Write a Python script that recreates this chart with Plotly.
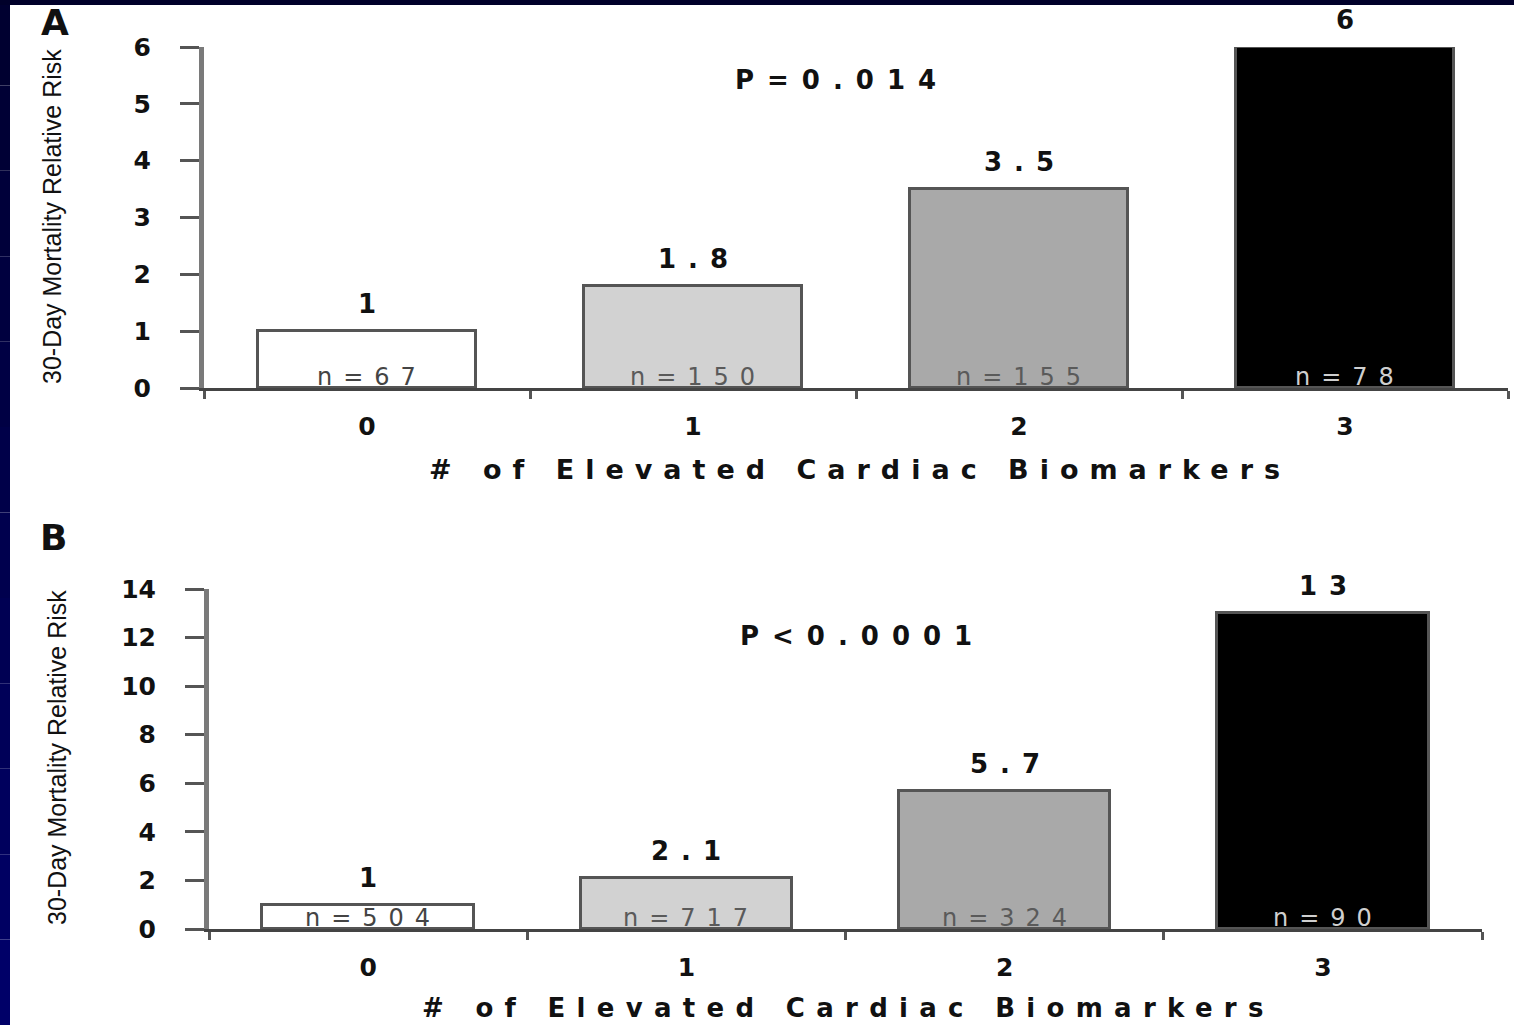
import plotly.graph_objects as go

W, H = 1514, 1025

# ---------------- data ----------------
categories = ["0", "1", "2", "3"]
risk_a = [1, 1.8, 3.5, 6]
n_a = [67, 150, 155, 78]
p_a = "P=0.014"
risk_b = [1, 2.1, 5.7, 13]
n_b = [504, 717, 324, 90]
p_b = "P<0.0001"
yticks_a = [0, 1, 2, 3, 4, 5, 6]
yticks_b = [0, 2, 4, 6, 8, 10, 12, 14]
bar_colors = ["#ffffff", "#d2d2d2", "#a9a9a9", "#000000"]
n_label_colors = ["#444444", "#5a5a5a", "#5a5a5a", "#cfcfcf"]
x_title = "# of Elevated Cardiac Biomarkers"
y_title = "30-Day Mortality Relative Risk"

BOLD = "DejaVu Sans"
TITLE_Y_FONT = "Liberation Sans, Arial, sans-serif"


def px(x):
    return x / W


def py(y):
    return 1 - y / H


def spaced(t, s):
    return f'<span style="letter-spacing:{s}px">{t}</span>'


xpos = list(range(len(categories)))
bounds = [i - 0.5 for i in range(len(categories) + 1)]

fig = go.Figure()

fig.add_trace(go.Bar(x=xpos, y=risk_a, width=0.67, xaxis="x", yaxis="y",
                     marker=dict(color=bar_colors, line=dict(color="#555555", width=3)),
                     showlegend=False, hoverinfo="skip"))
fig.add_trace(go.Bar(x=xpos, y=risk_b, width=0.665, xaxis="x2", yaxis="y2",
                     marker=dict(color=bar_colors, line=dict(color="#555555", width=3)),
                     showlegend=False, hoverinfo="skip"))

tickfont = dict(family=BOLD, size=25, color="#111111", weight="bold")

common_x = dict(range=[-0.5, 3.5], tickvals=xpos, ticktext=categories, ticks="",
                showline=True, linecolor="#444444", linewidth=3, showgrid=False,
                zeroline=False, tickfont=tickfont, ticklabelstandoff=14, automargin=False,
                minor=dict(tickvals=bounds, ticks="outside", ticklen=8, tickwidth=3,
                           tickcolor="#555555"))
common_y = dict(ticks="outside", ticklen=19, tickwidth=3, tickcolor="#555555",
                showline=True, linecolor="#7a7a7a", linewidth=5, showgrid=False,
                zeroline=False, tickfont=tickfont, ticklabelstandoff=24, automargin=False)

fig.update_layout(
    width=W, height=H,
    margin=dict(l=0, r=0, t=0, b=0, autoexpand=False),
    paper_bgcolor="#ffffff", plot_bgcolor="#ffffff",
    bargap=0,
    xaxis=dict(domain=[px(204), px(1508)], anchor="y", **common_x),
    yaxis=dict(domain=[py(388), py(47)], range=[0, 6], tickvals=yticks_a, anchor="x", **common_y),
    xaxis2=dict(domain=[px(209), px(1482)], anchor="y2", **common_x),
    yaxis2=dict(domain=[py(929), py(589)], range=[0, 14], tickvals=yticks_b, anchor="x2", **common_y),
)

C = dict(xanchor="center", yanchor="middle", showarrow=False)

ann = []
for xr, yr, vals, ns in [("x", "y", risk_a, n_a), ("x2", "y2", risk_b, n_b)]:
    for i, (v, n) in enumerate(zip(vals, ns)):
        ann.append(dict(x=xpos[i], y=v, xref=xr, yref=yr, text=spaced(f"{v:g}", 12),
                        yshift=27, xshift=6, **C,
                        font=dict(family=BOLD, size=26, color="#111111", weight="bold")))
        ann.append(dict(x=xpos[i], y=0, xref=xr, yref=yr, text=spaced(f"n={n}", 11),
                        yshift=11, xshift=5, **C,
                        font=dict(family="DejaVu Sans", size=24, color=n_label_colors[i])))

pfont = dict(family=BOLD, size=26, color="#111111", weight="bold")
ann.append(dict(x=px(842), y=py(80), xref="paper", yref="paper", text=spaced(p_a, 13),
                font=pfont, **C))
ann.append(dict(x=px(862), y=py(636), xref="paper", yref="paper", text=spaced(p_b, 13),
                font=pfont, **C))

tfont = dict(family=BOLD, size=27, color="#111111", weight="bold")
ann.append(dict(x=px(860), y=py(470), xref="paper", yref="paper", text=spaced(x_title, 11),
                font=tfont, **C))
ann.append(dict(x=px(848), y=py(1008), xref="paper", yref="paper", text=spaced(x_title, 11.3),
                font=dict(family=BOLD, size=26, color="#111111", weight="bold"), **C))

yfont = dict(family=TITLE_Y_FONT, size=25, color="#111111")
ann.append(dict(x=px(52), y=py(217), xref="paper", yref="paper", text=y_title,
                textangle=-90, font=yfont, **C))
ann.append(dict(x=px(57), y=py(758), xref="paper", yref="paper", text=y_title,
                textangle=-90, font=yfont, **C))

lfont = dict(family=BOLD, size=36, color="#111111", weight="bold")
ann.append(dict(x=px(55), y=py(22), xref="paper", yref="paper", text="A", font=lfont, **C))
ann.append(dict(x=px(53), y=py(537), xref="paper", yref="paper", text="B", font=lfont, **C))

fig.update_layout(annotations=ann)

# dark navy frame (left strip with gradient, top strip)
shapes = []
steps = 12
for k in range(steps):
    t = k / (steps - 1)
    b = int(0x30 + t * (0x68 - 0x30))
    shapes.append(dict(type="rect", xref="paper", yref="paper",
                       x0=0, x1=px(10), y0=1 - (k + 1) / steps, y1=1 - k / steps,
                       fillcolor=f"rgb(0,0,{b})", line=dict(width=0), layer="above"))
shapes.append(dict(type="rect", xref="paper", yref="paper", x0=0, x1=1, y0=py(5), y1=1,
                   fillcolor="#00002a", line=dict(width=0), layer="above"))
fig.update_layout(shapes=shapes)

fig.write_html("out.html")
